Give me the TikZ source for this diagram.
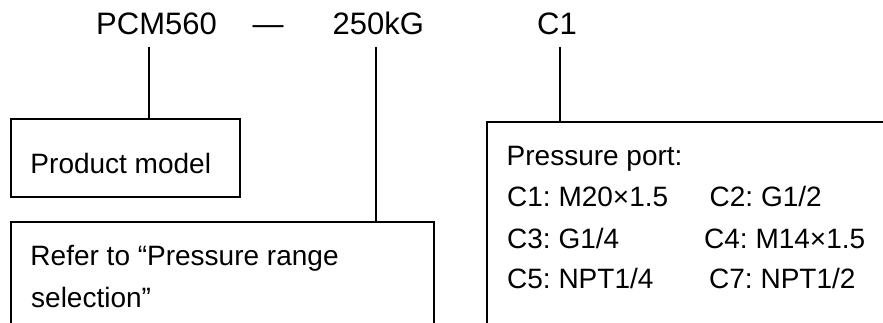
\documentclass[tikz,border=0pt]{standalone}
\usepackage{fontspec}
\setmainfont{Liberation Sans}
\frenchspacing
\begin{document}
\begin{tikzpicture}[x=1pt,y=1pt,line width=1.4pt,
  titletext/.style={inner sep=0pt,anchor=base west,font=\fontsize{31}{37}\selectfont},
  boxtext/.style={inner sep=0pt,anchor=base west,font=\fontsize{28}{34}\selectfont\frenchspacing},
  frame/.style={draw,line width=1.4pt,inner sep=0pt}]
\useasboundingbox (0,0) rectangle (883,322);
% title
\node[titletext] (pcm) at (95.5,287) {PCM560};
\node[titletext] (dash) at (252,287) {—};
\node[titletext] (rng) at (332,287) {250kG};
\node[titletext] (port) at (536.5,287) {C1};
% box 1
\node[frame,minimum width=229pt,minimum height=78pt] (box1) at (125.5,164) {};
\node[boxtext] (t1) at (29.8,149) {Product model};
% box 2 (open at the bottom)
\coordinate (b2tl) at (11,100);
\coordinate (b2tr) at (434,100);
\draw (11,-5) -- (b2tl) -- (b2tr) -- (434,-5);
\node[boxtext] (t2a) at (29.8,57) {Refer to “Pressure range};
\node[boxtext] (t2b) at (30.5,15) {selection”};
% box 3 (open at the right and the bottom)
\coordinate (b3tl) at (487,200);
\draw (487,-5) -- (b3tl) -- (890,200);
\node[boxtext] (p0) at (506,157) {Pressure port:};
\node[boxtext] (p1) at (506.5,116) {C1: M20×1.5};
\node[boxtext] (p2) at (709,116) {C2: G1/2};
\node[boxtext] (p3) at (506.5,74) {C3: G1/4};
\node[boxtext] (p4) at (703.5,74) {C4: M14×1.5};
\node[boxtext] (p5) at (506.5,34) {C5: NPT1/4};
\node[boxtext] (p6) at (708.5,34) {C7: NPT1/2};
% connectors
\coordinate (c1) at (149,275);
\coordinate (c2) at (376,275);
\coordinate (c3) at (560,275);
\draw (c1) -- (c1 |- box1.north);
\draw (c2) -- (c2 |- b2tl);
\draw (c3) -- (c3 |- b3tl);
\end{tikzpicture}
\end{document}
